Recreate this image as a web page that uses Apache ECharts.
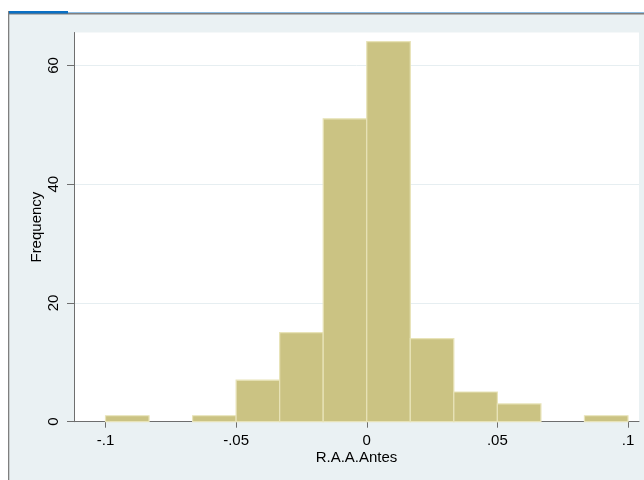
<!DOCTYPE html>
<html>
<head>
<meta charset="utf-8">
<script src="https://cdn.jsdelivr.net/npm/echarts@6/dist/echarts.min.js"></script>
<style>
html,body{margin:0;padding:0;background:#ffffff;}
#c{width:644px;height:480px;}
</style>
</head>
<body>
<div id="c"></div>
<script>
// Histogram bins (R.A.A.Antes), bin width 1/60
const binStarts = [-0.1, -0.08333, -0.06667, -0.05, -0.03333, -0.01667, 0, 0.01667, 0.03333, 0.05, 0.06667, 0.08333];
const binEnds   = [-0.08333, -0.06667, -0.05, -0.03333, -0.01667, 0, 0.01667, 0.03333, 0.05, 0.06667, 0.08333, 0.1];
const counts    = [1, 0, 1, 7, 15, 51, 64, 14, 5, 3, 0, 1];
const xTicks = [-0.1, -0.05, 0, 0.05, 0.1];
const xTickLabels = ['-.1', '-.05', '0', '.05', '.1'];
const yTicks = [0, 20, 40, 60];
const xTitle = 'R.A.A.Antes';
const yTitle = 'Frequency';

const data = binStarts.map((s, i) => [s, binEnds[i], counts[i]]);
const FONT = '"Liberation Sans", Arial, sans-serif';

const chart = echarts.init(document.getElementById('c'), null, {renderer: 'canvas'});
chart.setOption({
  backgroundColor: '#ffffff',
  animation: false,
  graphic: [
    {type: 'rect', z: -10, shape: {x: 9, y: 13, width: 635, height: 467}, style: {fill: '#EAF1F3'}},
    {type: 'rect', z: -9, shape: {x: 68, y: 12, width: 576, height: 1}, style: {fill: '#8DBCE2'}},
    {type: 'rect', z: -9, shape: {x: 9, y: 13, width: 635, height: 1.5}, style: {fill: '#7F7F7F'}},
    {type: 'rect', z: -8, shape: {x: 9, y: 11, width: 59, height: 2.5}, style: {fill: '#0A70C4'}},
    {type: 'rect', z: -9, shape: {x: 8, y: 11, width: 1.3, height: 469}, style: {fill: '#7F7F7F'}},
    {type: 'rect', z: -7, shape: {x: 74, y: 32.5, width: 565, height: 389.5}, style: {fill: '#ffffff'}}
  ],
  grid: {left: 74, right: 5, top: 32.5, bottom: 58.3, containLabel: false},
  xAxis: {
    type: 'value',
    min: -0.11206, max: 0.10421,
    splitLine: {show: false},
    axisLine: {show: true, onZero: false, lineStyle: {color: '#6E6E6E', width: 1}},
    axisTick: {show: true, length: 6, lineStyle: {color: '#6E6E6E'},
      customValues: xTicks},
    axisLabel: {
      customValues: xTicks,
      formatter: v => { const i = xTicks.findIndex(t => Math.abs(t - v) < 1e-9); return i >= 0 ? xTickLabels[i] : ''; },
      color: '#000', fontFamily: FONT, fontSize: 15, margin: 12
    },
    name: xTitle, nameLocation: 'middle', nameGap: 29, nameMoveOverlap: false,
    nameTextStyle: {color: '#000', fontFamily: FONT, fontSize: 15}
  },
  yAxis: {
    type: 'value',
    min: 0, max: 65.54,
    axisLine: {show: true, onZero: false, lineStyle: {color: '#6E6E6E', width: 1}},
    axisTick: {show: true, length: 7, lineStyle: {color: '#6E6E6E'}, customValues: yTicks},
    axisLabel: {customValues: yTicks, rotate: 90, color: '#000', fontFamily: FONT, fontSize: 15, margin: 13},
    splitLine: {show: true, lineStyle: {color: '#E6EEF1', width: 1}},
    name: yTitle, nameLocation: 'middle', nameGap: 30, nameRotate: 90, nameMoveOverlap: false,
    nameTextStyle: {color: '#000', fontFamily: FONT, fontSize: 15}
  },
  series: [{
    type: 'custom',
    data: data,
    encode: {x: [0, 1], y: 2},
    renderItem: function (params, api) {
      const h = api.value(2);
      if (!h) return null;
      const p0 = api.coord([api.value(0), h]);
      const p1 = api.coord([api.value(1), 0]);
      return {
        type: 'rect',
        shape: {x: p0[0], y: p0[1], width: p1[0] - p0[0], height: p1[1] - p0[1]},
        style: {fill: '#CBC383', stroke: '#E8E3B8', lineWidth: 1.2}
      };
    }
  }]
});
</script>
</body>
</html>
